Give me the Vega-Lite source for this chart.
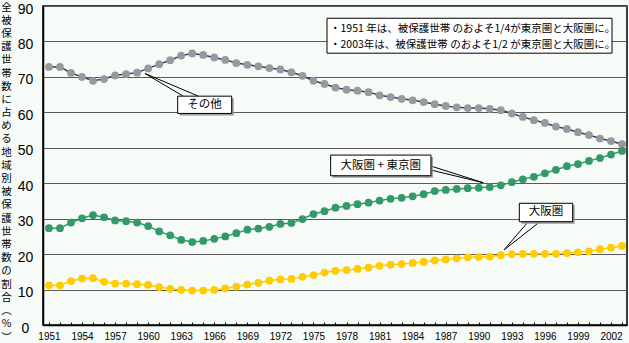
{
  "$schema": "https://vega.github.io/schema/vega-lite/v6.json",
  "width": 584,
  "height": 319,
  "autosize": {"type": "none"},
  "padding": {"left": 43, "top": 6, "right": 2, "bottom": 18},
  "background": "#F6FBF8",
  "config": {
    "view": {"stroke": "#000", "strokeWidth": 1.5, "fill": "#F6FBF8"},
    "font": "Liberation Sans",
    "axisX": {
      "tickCount": 53,
      "labelExpr": "(round(datum.value) - 1951) % 3 == 0 ? '' + round(datum.value) : ''",
      "labelOverlap": false,
      "labelFlush": false,
      "grid": false,
      "ticks": true,
      "tickSize": -3,
      "tickColor": "#000",
      "domainColor": "#000",
      "domainWidth": 1.5,
      "labelFontSize": 10,
      "labelColor": "#000",
      "labelPadding": 9
    },
    "axisY": {
      "tickCount": 9,
      "grid": true,
      "gridColor": "#5a5a5a",
      "gridWidth": 1.2,
      "ticks": false,
      "tickSize": 0,
      "domainColor": "#000",
      "domainWidth": 1.5,
      "labelAlign": "center",
      "labelBaseline": "middle",
      "labelPadding": 18,
      "labelOffset": 3,
      "labelFontSize": 14,
      "labelColor": "#000",
      "labelOverlap": false,
      "titleAngle": 0,
      "titleAlign": "center",
      "titleBaseline": "top",
      "titleX": -37,
      "titleY": -4,
      "titleFont": "Noto Sans CJK JP",
      "titleFontSize": 10.5,
      "titleFontWeight": "normal",
      "titleLineHeight": 13.2,
      "titleColor": "#000"
    }
  },
  "datasets": {
    "series": [
      {"year": 1951, "その他": 72.8, "大阪圏＋東京圏": 27.3, "大阪圏": 11.2},
      {"year": 1952, "その他": 72.8, "大阪圏＋東京圏": 27.3, "大阪圏": 11.2},
      {"year": 1953, "その他": 71.1, "大阪圏＋東京圏": 28.9, "大阪圏": 12.4},
      {"year": 1954, "その他": 70.0, "大阪圏＋東京圏": 30.1, "大阪圏": 13.1},
      {"year": 1955, "その他": 68.9, "大阪圏＋東京圏": 31.0, "大阪圏": 13.2},
      {"year": 1956, "その他": 69.4, "大阪圏＋東京圏": 30.4, "大阪圏": 12.2},
      {"year": 1957, "その他": 70.4, "大阪圏＋東京圏": 29.5, "大阪圏": 11.7},
      {"year": 1958, "その他": 70.8, "大阪圏＋東京圏": 29.3, "大阪圏": 11.7},
      {"year": 1959, "その他": 71.2, "大阪圏＋東京圏": 28.9, "大阪圏": 11.5},
      {"year": 1960, "その他": 72.4, "大阪圏＋東京圏": 27.9, "大阪圏": 11.3},
      {"year": 1961, "その他": 73.6, "大阪圏＋東京圏": 26.4, "大阪圏": 10.7},
      {"year": 1962, "その他": 74.7, "大阪圏＋東京圏": 25.3, "大阪圏": 10.2},
      {"year": 1963, "その他": 76.0, "大阪圏＋東京圏": 24.0, "大阪圏": 9.9},
      {"year": 1964, "その他": 76.6, "大阪圏＋東京圏": 23.4, "大阪圏": 9.7},
      {"year": 1965, "その他": 76.2, "大阪圏＋東京圏": 23.7, "大阪圏": 9.7},
      {"year": 1966, "その他": 75.5, "大阪圏＋東京圏": 24.3, "大阪圏": 9.9},
      {"year": 1967, "その他": 74.8, "大阪圏＋東京圏": 25.0, "大阪圏": 10.3},
      {"year": 1968, "その他": 73.9, "大阪圏＋東京圏": 25.9, "大阪圏": 10.8},
      {"year": 1969, "その他": 73.4, "大阪圏＋東京圏": 26.9, "大阪圏": 11.4},
      {"year": 1970, "その他": 73.0, "大阪圏＋東京圏": 27.2, "大阪圏": 11.9},
      {"year": 1971, "その他": 72.5, "大阪圏＋東京圏": 27.7, "大阪圏": 12.5},
      {"year": 1972, "その他": 72.1, "大阪圏＋東京圏": 28.5, "大阪圏": 12.9},
      {"year": 1973, "その他": 71.3, "大阪圏＋東京圏": 28.8, "大阪圏": 13.0},
      {"year": 1974, "その他": 70.3, "大阪圏＋東京圏": 29.9, "大阪圏": 13.6},
      {"year": 1975, "その他": 68.9, "大阪圏＋東京圏": 31.3, "大阪圏": 14.1},
      {"year": 1976, "その他": 68.0, "大阪圏＋東京圏": 32.1, "大阪圏": 14.8},
      {"year": 1977, "その他": 67.0, "大阪圏＋東京圏": 33.1, "大阪圏": 15.3},
      {"year": 1978, "その他": 66.4, "大阪圏＋東京圏": 33.6, "大阪圏": 15.5},
      {"year": 1979, "その他": 66.1, "大阪圏＋東京圏": 34.1, "大阪圏": 15.8},
      {"year": 1980, "その他": 65.7, "大阪圏＋東京圏": 34.5, "大阪圏": 16.2},
      {"year": 1981, "その他": 64.8, "大阪圏＋東京圏": 35.1, "大阪圏": 16.7},
      {"year": 1982, "その他": 64.3, "大阪圏＋東京圏": 35.6, "大阪圏": 17.0},
      {"year": 1983, "その他": 63.8, "大阪圏＋東京圏": 35.9, "大阪圏": 17.2},
      {"year": 1984, "その他": 63.4, "大阪圏＋東京圏": 36.3, "大阪圏": 17.5},
      {"year": 1985, "その他": 62.9, "大阪圏＋東京圏": 36.9, "大阪圏": 17.8},
      {"year": 1986, "その他": 62.3, "大阪圏＋東京圏": 37.8, "大阪圏": 18.2},
      {"year": 1987, "その他": 61.8, "大阪圏＋東京圏": 38.1, "大阪圏": 18.5},
      {"year": 1988, "その他": 61.4, "大阪圏＋東京圏": 38.4, "大阪圏": 18.8},
      {"year": 1989, "その他": 61.2, "大阪圏＋東京圏": 38.6, "大阪圏": 19.1},
      {"year": 1990, "その他": 61.2, "大阪圏＋東京圏": 38.7, "大阪圏": 19.2},
      {"year": 1991, "その他": 61.0, "大阪圏＋東京圏": 38.9, "大阪圏": 19.3},
      {"year": 1992, "その他": 60.6, "大阪圏＋東京圏": 39.4, "大阪圏": 19.7},
      {"year": 1993, "その他": 59.7, "大阪圏＋東京圏": 40.3, "大阪圏": 20.0},
      {"year": 1994, "その他": 58.7, "大阪圏＋東京圏": 41.1, "大阪圏": 20.1},
      {"year": 1995, "その他": 57.8, "大阪圏＋東京圏": 41.8, "大阪圏": 20.1},
      {"year": 1996, "その他": 57.0, "大阪圏＋東京圏": 42.8, "大阪圏": 20.1},
      {"year": 1997, "その他": 56.0, "大阪圏＋東京圏": 43.8, "大阪圏": 20.1},
      {"year": 1998, "その他": 55.3, "大阪圏＋東京圏": 44.8, "大阪圏": 20.3},
      {"year": 1999, "その他": 54.4, "大阪圏＋東京圏": 45.4, "大阪圏": 20.5},
      {"year": 2000, "その他": 53.6, "大阪圏＋東京圏": 46.3, "大阪圏": 20.8},
      {"year": 2001, "その他": 52.6, "大阪圏＋東京圏": 47.1, "大阪圏": 21.4},
      {"year": 2002, "その他": 51.9, "大阪圏＋東京圏": 48.1, "大阪圏": 21.8},
      {"year": 2003, "その他": 51.0, "大阪圏＋東京圏": 49.1, "大阪圏": 22.3}
    ],
    "one": [{}]
  },
  "layer": [
    {
      "data": {"name": "series"},
      "transform": [{"fold": ["その他", "大阪圏＋東京圏", "大阪圏"], "as": ["region", "value"]}],
      "encoding": {
        "x": {
          "field": "year", "type": "quantitative",
          "scale": {"domain": [1950.46, 2003.45], "nice": false, "zero": false},
          "axis": {"title": null}
        },
        "y": {
          "field": "value", "type": "quantitative",
          "scale": {"domain": [0, 90], "nice": false},
          "axis": {
            "title": ["全","被","保","護","世","帯","数","に","占","め","る","地","域","別","被","保","護","世","帯","数","の","割","合","︵","%","︶"]
          }
        }
      },
      "layer": [
        {
          "mark": {"type": "line", "strokeWidth": 1.5},
          "encoding": {
            "stroke": {"field": "region", "type": "nominal", "scale": {"domain": ["その他", "大阪圏＋東京圏", "大阪圏"], "range": ["#1F3F80", "#339966", "#FFCC00"]}, "legend": null}
          }
        },
        {
          "mark": {"type": "point", "filled": true, "opacity": 1, "size": 60, "shape": "circle"},
          "encoding": {
            "fill": {"field": "region", "type": "nominal", "scale": {"domain": ["その他", "大阪圏＋東京圏", "大阪圏"], "range": ["#999999", "#339966", "#FFCC00"]}, "legend": null}
          }
        }
      ]
    },
    {
      "data": {"name": "one"},
      "layer": [
        {
          "mark": {"type": "rect", "fill": "#FFFFFF", "stroke": "#000", "strokeWidth": 1},
          "encoding": {
            "x": {"datum": 1976.23, "type": "quantitative"}, "x2": {"datum": 2002.09},
            "y": {"datum": 86.54, "type": "quantitative"}, "y2": {"datum": 76.69}
          }
        },
        {
          "mark": {"type": "text", "align": "left", "baseline": "middle", "font": "Noto Sans CJK JP", "fontSize": 10.5, "color": "#000"},
          "encoding": {
            "x": {"datum": 1976.5, "type": "quantitative"},
            "y": {"datum": 83.44, "type": "quantitative"},
            "text": {"value": "・1951 年は、被保護世帯 のおよそ1/4が東京圏と大阪圏に。"}
          }
        },
        {
          "mark": {"type": "text", "align": "left", "baseline": "middle", "font": "Noto Sans CJK JP", "fontSize": 10.5, "color": "#000"},
          "encoding": {
            "x": {"datum": 1976.5, "type": "quantitative"},
            "y": {"datum": 78.93, "type": "quantitative"},
            "text": {"value": "・2003年は、被保護世帯 のおよそ1/2 が東京圏と大阪圏に。"}
          }
        },
        {
          "mark": {"type": "rule", "color": "#000", "strokeWidth": 1},
          "encoding": {
            "x": {"datum": 1959.71, "type": "quantitative"}, "x2": {"datum": 1963.19},
            "y": {"datum": 70.96, "type": "quantitative"}, "y2": {"datum": 64.56}
          }
        },
        {
          "mark": {"type": "rule", "color": "#000", "strokeWidth": 1},
          "encoding": {
            "x": {"datum": 1959.71, "type": "quantitative"}, "x2": {"datum": 1964.55},
            "y": {"datum": 70.96, "type": "quantitative"}, "y2": {"datum": 64.56}
          }
        },
        {
          "mark": {"type": "rect", "fill": "#999999"},
          "encoding": {
            "x": {"datum": 1962.86, "type": "quantitative"}, "x2": {"datum": 1967.76},
            "y": {"datum": 64.0, "type": "quantitative"}, "y2": {"datum": 59.13}
          }
        },
        {
          "mark": {"type": "rect", "fill": "#FFFFFF", "stroke": "#000", "strokeWidth": 1},
          "encoding": {
            "x": {"datum": 1962.68, "type": "quantitative"}, "x2": {"datum": 1967.58},
            "y": {"datum": 64.56, "type": "quantitative"}, "y2": {"datum": 59.69}
          }
        },
        {
          "mark": {"type": "text", "align": "center", "baseline": "middle", "font": "Noto Sans CJK JP", "fontSize": 11.5, "color": "#000"},
          "encoding": {
            "x": {"datum": 1965.11, "type": "quantitative"},
            "y": {"datum": 62.1, "type": "quantitative"},
            "text": {"value": "その他"}
          }
        },
        {
          "mark": {"type": "rule", "color": "#000", "strokeWidth": 1},
          "encoding": {
            "x": {"datum": 1990.41, "type": "quantitative"}, "x2": {"datum": 1985.66},
            "y": {"datum": 40.14, "type": "quantitative"}, "y2": {"datum": 44.85}
          }
        },
        {
          "mark": {"type": "rule", "color": "#000", "strokeWidth": 1},
          "encoding": {
            "x": {"datum": 1990.41, "type": "quantitative"}, "x2": {"datum": 1985.66},
            "y": {"datum": 40.14, "type": "quantitative"}, "y2": {"datum": 43.72}
          }
        },
        {
          "mark": {"type": "rect", "fill": "#999999"},
          "encoding": {
            "x": {"datum": 1976.74, "type": "quantitative"}, "x2": {"datum": 1985.84},
            "y": {"datum": 47.38, "type": "quantitative"}, "y2": {"datum": 41.55}
          }
        },
        {
          "mark": {"type": "rect", "fill": "#FFFFFF", "stroke": "#000", "strokeWidth": 1},
          "encoding": {
            "x": {"datum": 1976.56, "type": "quantitative"}, "x2": {"datum": 1985.66},
            "y": {"datum": 47.94, "type": "quantitative"}, "y2": {"datum": 42.11}
          }
        },
        {
          "mark": {"type": "text", "align": "center", "baseline": "middle", "font": "Noto Sans CJK JP", "fontSize": 11.5, "color": "#000"},
          "encoding": {
            "x": {"datum": 1981.1, "type": "quantitative"},
            "y": {"datum": 45.0, "type": "quantitative"},
            "text": {"value": "大阪圏 + 東京圏"}
          }
        },
        {
          "mark": {"type": "rule", "color": "#000", "strokeWidth": 1},
          "encoding": {
            "x": {"datum": 1992.29, "type": "quantitative"}, "x2": {"datum": 1994.49},
            "y": {"datum": 21.18, "type": "quantitative"}, "y2": {"datum": 29.15}
          }
        },
        {
          "mark": {"type": "rule", "color": "#000", "strokeWidth": 1},
          "encoding": {
            "x": {"datum": 1992.29, "type": "quantitative"}, "x2": {"datum": 1995.55},
            "y": {"datum": 21.18, "type": "quantitative"}, "y2": {"datum": 29.15}
          }
        },
        {
          "mark": {"type": "rect", "fill": "#999999"},
          "encoding": {
            "x": {"datum": 1993.86, "type": "quantitative"}, "x2": {"datum": 1998.7},
            "y": {"datum": 33.78, "type": "quantitative"}, "y2": {"datum": 28.59}
          }
        },
        {
          "mark": {"type": "rect", "fill": "#FFFFFF", "stroke": "#000", "strokeWidth": 1},
          "encoding": {
            "x": {"datum": 1993.68, "type": "quantitative"}, "x2": {"datum": 1998.52},
            "y": {"datum": 34.34, "type": "quantitative"}, "y2": {"datum": 29.15}
          }
        },
        {
          "mark": {"type": "text", "align": "center", "baseline": "middle", "font": "Noto Sans CJK JP", "fontSize": 11.5, "color": "#000"},
          "encoding": {
            "x": {"datum": 1996.1, "type": "quantitative"},
            "y": {"datum": 31.75, "type": "quantitative"},
            "text": {"value": "大阪圏"}
          }
        }
      ]
    }
  ]
}
